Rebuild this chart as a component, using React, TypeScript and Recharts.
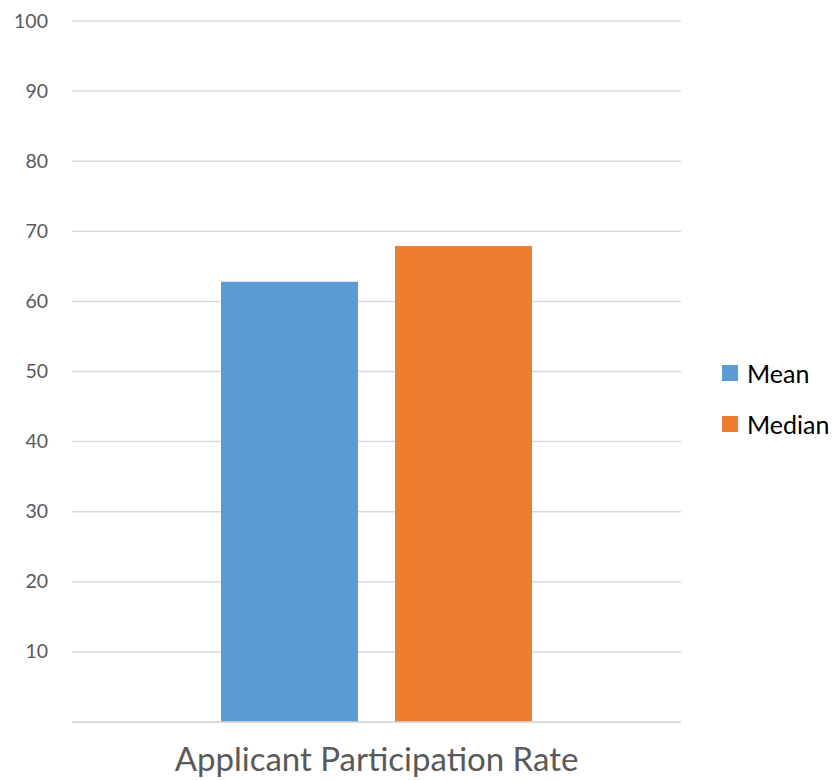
import React from 'react';
import { BarChart, Bar, XAxis, YAxis, CartesianGrid } from 'recharts';

const categories = ['Applicant Participation Rate'];
const meanValues = [62.8];
const medianValues = [67.9];
const yTicks = [10, 20, 30, 40, 50, 60, 70, 80, 90, 100];
const seriesNames = ['Mean', 'Median'];
const seriesColors = ['#5B9BD5', '#ED7D31'];

const data = categories.map((c, i) => ({ name: c, Mean: meanValues[i], Median: medianValues[i] }));

const FONT = 'Lato, "Open Sans", sans-serif';

const YTick = (props: any) => {
  const { y, payload } = props;
  return (
    <text x={48} y={y} dy={6.5} textAnchor="end" fontSize={19.5} fill="#595959" fontFamily={FONT}>
      {payload.value}
    </text>
  );
};

const XTick = (props: any) => {
  const { x, y, payload } = props;
  return (
    <text x={x} y={y} dy={41} textAnchor="middle" fontSize={33} fill="#595959" fontFamily={FONT}>
      {payload.value}
    </text>
  );
};

export default function App() {
  return (
    <div style={{ position: 'absolute', left: 0, top: 0, width: 840, height: 780, background: '#fff' }}>
      <BarChart
        width={840}
        height={780}
        data={data}
        margin={{ top: 21, right: 159, bottom: 0, left: 0 }}
        barSize={137}
        barGap={37}
      >
        <CartesianGrid horizontal vertical={false} stroke="#D9D9D9" strokeWidth={1.5} />
        <XAxis
          dataKey="name"
          height={58}
          axisLine={{ stroke: '#D9D9D9', strokeWidth: 1.5 }}
          tickLine={false}
          tick={<XTick />}
          interval={0}
        />
        <YAxis
          width={72}
          domain={[0, 100]}
          ticks={yTicks}
          axisLine={false}
          tickLine={false}
          tick={<YTick />}
          interval={0}
        />
        <Bar dataKey="Mean" fill={seriesColors[0]} isAnimationActive={false} />
        <Bar dataKey="Median" fill={seriesColors[1]} isAnimationActive={false} />
      </BarChart>
      <div style={{ position: 'absolute', left: 722, top: 357, fontFamily: FONT }}>
        {seriesNames.map((n, i) => (
          <div key={n} style={{ display: 'flex', alignItems: 'center', height: 32, marginBottom: i === 0 ? 19 : 0 }}>
            <div style={{ width: 16, height: 16, background: seriesColors[i], marginRight: 9 }} />
            <span style={{ fontSize: 25, color: '#000' }}>{n}</span>
          </div>
        ))}
      </div>
    </div>
  );
}
